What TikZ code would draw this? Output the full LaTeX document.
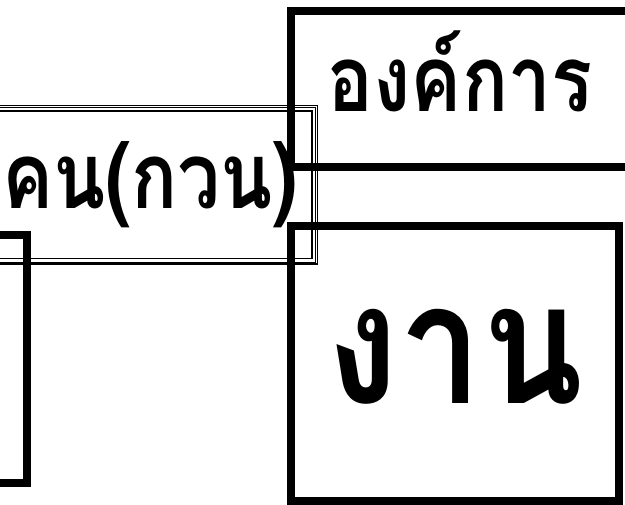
\documentclass[tikz,border=0pt]{standalone}
\usepackage{fontspec}
\newfontfamily\thaifont[Script=Thai,FakeStretch=0.83]{Loma}
\newfontfamily\thaibig[Script=Thai,FakeStretch=0.88]{Loma}
\usepackage{tikz}
\usetikzlibrary{positioning,calc}
\tikzset{
  tbox/.style={rectangle,draw,line width=8pt,inner sep=0pt,text height=46pt,text depth=0pt,font=\thaifont\bfseries\fontsize{92}{94}\selectfont},
  bigbox/.style={tbox,text height=80pt,font=\thaibig\bfseries\fontsize{168}{170}\selectfont},
  tribox/.style={rectangle,draw,line width=1.5pt,double,double distance=4pt,inner sep=0pt,text height=48pt,text depth=0pt,font=\thaifont\bfseries\fontsize{92}{94}\selectfont},
  midline/.style={draw,line width=1pt}
}
\begin{document}
\begin{tikzpicture}[x=1pt,y=-1pt]
\useasboundingbox (0,0) rectangle (625,505);
\node[tribox, minimum width=329pt, minimum height=153pt] (ppl) at (150,185) {คน(กวน)};
\draw[midline] (ppl.south west) rectangle (ppl.north east);
\node[tbox, minimum width=87pt, minimum height=248pt] (side) at (-16.5,359) {};
\node[tbox, minimum width=338pt, minimum height=156pt] (org) at (460,89) {องค์การ};
\node[bigbox, minimum width=328pt, minimum height=275pt] (work) at (455,363.5) {งาน};
\end{tikzpicture}
\end{document}
